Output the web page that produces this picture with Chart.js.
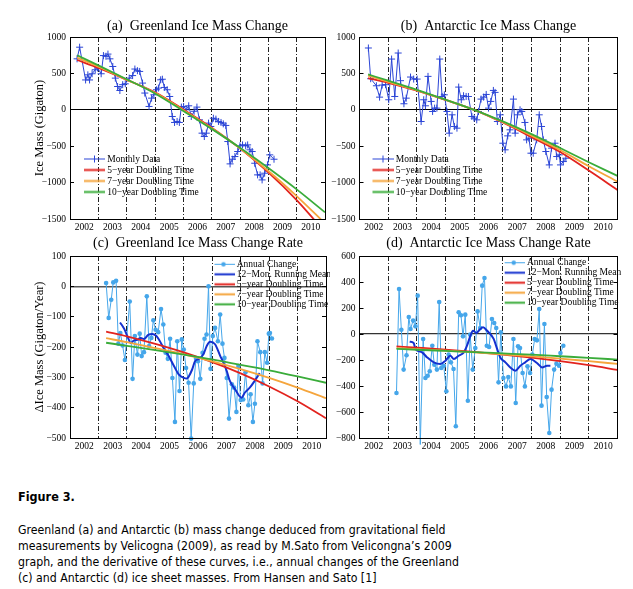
<!DOCTYPE html>
<html>
<head>
<meta charset="utf-8">
<title>Figure 3 - Greenland and Antarctic ice mass</title>
<script src="https://cdn.jsdelivr.net/npm/chart.js@4.4.0/dist/chart.umd.min.js"></script>
<style>
  body { margin: 0; background: #fff; width: 633px; height: 589px; position: relative; overflow: hidden; }
  .panel { position: absolute; }
  .fig { position: absolute; left: 18px; top: 489px; font: bold 12.5px "DejaVu Sans Condensed", "DejaVu Sans", sans-serif; color: #000; }
  .cap { position: absolute; left: 18px; top: 522px; font: 12.2px/16px "DejaVu Sans Condensed", "DejaVu Sans", sans-serif; color: #000; white-space: pre; }
</style>
</head>
<body>
<div class="panel" style="left:0;top:0;width:330px;height:240px"><canvas id="chartA"></canvas></div>
<div class="panel" style="left:330px;top:0;width:300px;height:240px"><canvas id="chartB"></canvas></div>
<div class="panel" style="left:0;top:222px;width:330px;height:240px"><canvas id="chartC"></canvas></div>
<div class="panel" style="left:330px;top:222px;width:300px;height:240px"><canvas id="chartD"></canvas></div>
<div class="fig">Figure 3.</div>
<div class="cap">Greenland (a) and Antarctic (b) mass change deduced from gravitational field
measurements by Velicogna (2009), as read by M.Sato from Velicongna’s 2009
graph, and the derivative of these curves, i.e., annual changes of the Greenland
(c) and Antarctic (d) ice sheet masses. From Hansen and Sato [1]</div>

<script>
// ---- data (years, gigaton) ----

// (a) Greenland monthly mass
const greenlandYears = [2002.25, 2002.34, 2002.55, 2002.63, 2002.69, 2002.78, 2002.89, 2002.97,
  2003.10, 2003.18, 2003.27, 2003.34, 2003.41, 2003.51, 2003.60, 2003.68, 2003.76, 2003.86, 2003.95,
  2004.09, 2004.21, 2004.29, 2004.38, 2004.46, 2004.56, 2004.64, 2004.79, 2004.88, 2004.96,
  2005.05, 2005.12, 2005.20, 2005.26, 2005.33, 2005.43, 2005.52, 2005.61, 2005.69, 2005.78, 2005.86, 2005.93,
  2006.01, 2006.10, 2006.19, 2006.28, 2006.38, 2006.48, 2006.57, 2006.66, 2006.74, 2006.81, 2006.89, 2006.97,
  2007.06, 2007.15, 2007.24, 2007.33, 2007.41, 2007.50, 2007.57, 2007.65, 2007.73, 2007.82, 2007.92,
  2008.00, 2008.09, 2008.20, 2008.27, 2008.35, 2008.43, 2008.52, 2008.62, 2008.71, 2008.78, 2008.87, 2008.97,
  2009.05, 2009.20];
const greenlandMass = [700, 860, 410, 480, 410, 495, 550, 575,
  495, 745, 735, 765, 700, 595, 435, 320, 265, 345, 357,
  435, 470, 560, 537, 527, 367, 230, 46, 160, 206,
  275, 298, 412, 420, 307, 275, 183, -92, -174, -160, -174, 37,
  46, 0, 55, -92, -20, 37, -138, -321, -367, -321, -183, -229,
  -115, -128, -160, -174, -193, -215, -436, -743, -679, -642, -573,
  -495, -482, -495, -482, -550, -573, -734, -894, -894, -963, -871, -757,
  -619, -679];

// (b) Antarctic monthly mass
const antarcticYears = [2002.31, 2002.39, 2002.59, 2002.70, 2002.79, 2002.91,
  2003.02, 2003.12, 2003.23, 2003.35, 2003.43, 2003.55, 2003.63, 2003.78, 2003.89,
  2004.01, 2004.15, 2004.24, 2004.30, 2004.39, 2004.50, 2004.55, 2004.62, 2004.70, 2004.80, 2004.88, 2004.96,
  2005.05, 2005.13, 2005.23, 2005.31, 2005.40, 2005.46, 2005.55, 2005.63, 2005.72, 2005.80, 2005.92,
  2006.00, 2006.09, 2006.15, 2006.24, 2006.33, 2006.42, 2006.50, 2006.58, 2006.67, 2006.73, 2006.81, 2006.91,
  2007.00, 2007.08, 2007.17, 2007.25, 2007.37, 2007.43, 2007.51, 2007.60, 2007.66, 2007.77, 2007.83, 2007.91, 2007.98,
  2008.06, 2008.18, 2008.27, 2008.35, 2008.41, 2008.50, 2008.62, 2008.70, 2008.82, 2008.88, 2008.97,
  2009.01, 2009.11, 2009.20];
const antarcticMass = [849, 427, 330, 174, 340, 345,
  138, 697, 183, 780, 400, 83, 160, 450, 422,
  422, -161, 138, 55, 459, 115, -23, 23, 23, 697, 183, 206,
  -23, -321, -69, -229, -252, 312, 138, 193, 183, 183, -92,
  -115, -138, -23, 147, 174, 211, 23, 115, 266, 239, -161, -69,
  -459, -550, -358, -275, 147, -321, -69, 0, -23, -174, -413, -390, -596,
  -596, -413, -69, -229, -413, -573, -757, -527, -459, -642, -619,
  -757, -711, -665];

// doubling-time curves for (a) and (b)
const fitYearsA = [2002.25, 2003, 2004, 2005, 2006, 2007, 2008, 2009, 2010, 2011];
const greenland5yr = [684, 574, 412, 240, 5, -245, -530, -860, -1240, -1680];
const greenland7yr = [717, 594, 415, 232, -5, -255, -530, -840, -1185, -1560];
const greenland10yr = [749, 610, 420, 225, -15, -262, -522, -800, -1093, -1408];

const fitYearsB = [2002.3, 2003, 2004, 2005, 2006, 2007, 2008, 2009, 2010, 2011];
const antarctic5yr = [436, 370, 262, 135, 0, -175, -375, -580, -835, -1100];
const antarctic7yr = [468, 385, 268, 138, 0, -168, -355, -553, -775, -986];
const antarctic10yr = [486, 400, 275, 140, 0, -160, -335, -525, -720, -908];

// (c) Greenland annual change
const greenRateYears = [2003.27, 2003.36, 2003.45, 2003.52, 2003.62, 2003.70, 2003.77, 2003.85, 2003.93,
  2004.10, 2004.20, 2004.28, 2004.37, 2004.45, 2004.52, 2004.60, 2004.70, 2004.78, 2004.86, 2004.93,
  2005.01, 2005.10, 2005.20, 2005.28, 2005.36, 2005.44, 2005.52, 2005.60, 2005.69, 2005.77, 2005.85, 2005.93,
  2006.00, 2006.08, 2006.17, 2006.26, 2006.35, 2006.43, 2006.50, 2006.58, 2006.66, 2006.73, 2006.80, 2006.87, 2006.94,
  2007.02, 2007.10, 2007.20, 2007.28, 2007.36, 2007.43, 2007.51, 2007.59, 2007.69, 2007.77, 2007.85, 2007.92,
  2008.00, 2008.09, 2008.17, 2008.27, 2008.35, 2008.43, 2008.50, 2008.59, 2008.69, 2008.77, 2008.85, 2008.93, 2008.99,
  2009.03, 2009.10];
const greenRate = [11, -104, -44, 13, 18, -189, -154, -195, -243,
  -50, -305, -164, -225, -156, -230, -217, -33, -197, -170, -112,
  -143, -151, -75, -126, -219, -239, -173, -302, -447, -181, -345, -175,
  -208, -269, -318, -502, -320, -239, -247, -305, -219, -173, -159, 0, -272,
  -164, -137, -181, -93, -189, -236, -302, -436, -323, -334, -414, -263,
  -375, -373, -283, -392, -356, -447, -387, -181, -217, -320, -217, -252, -156,
  -154, -172];
const greenMeanYears = [2003.76, 2003.91, 2004.02, 2004.14, 2004.25, 2004.37, 2004.49, 2004.60, 2004.75, 2004.89,
  2005.03, 2005.13, 2005.30, 2005.47, 2005.65, 2005.82, 2006.00, 2006.11, 2006.17, 2006.29, 2006.40, 2006.52,
  2006.69, 2006.81, 2006.93, 2007.10, 2007.28, 2007.39, 2007.51, 2007.62, 2007.80, 2008.03, 2008.15, 2008.32,
  2008.49, 2008.67];
const greenMean = [-119, -141, -165, -187, -178, -176, -170, -174, -160, -157,
  -163, -176, -205, -230, -262, -290, -302, -304, -298, -275, -246, -240,
  -224, -196, -183, -191, -229, -251, -279, -312, -339, -367, -350, -334,
  -312, -286];
const fitYearsC = [2003.27, 2004, 2005, 2006, 2007, 2008, 2009, 2010, 2011];
const greenRate5yr = [-149, -165, -190, -218, -250, -287, -330, -379, -435];
const greenRate7yr = [-171, -184, -204, -224, -247, -273, -302, -334, -369];
const greenRate10yr = [-186, -196, -210, -225, -241, -259, -277, -297, -318];

// (d) Antarctic annual change
const antRateYears = [2003.29, 2003.38, 2003.46, 2003.54, 2003.64, 2003.72, 2003.78, 2003.87, 2003.95,
  2004.03, 2004.12, 2004.22, 2004.30, 2004.38, 2004.45, 2004.54, 2004.61, 2004.70, 2004.78, 2004.85, 2004.94,
  2005.03, 2005.11, 2005.19, 2005.28, 2005.36, 2005.46, 2005.54, 2005.61, 2005.69, 2005.78, 2005.86, 2005.95,
  2006.04, 2006.12, 2006.21, 2006.28, 2006.36, 2006.44, 2006.52, 2006.62, 2006.70, 2006.77, 2006.85, 2006.93,
  2007.02, 2007.11, 2007.19, 2007.28, 2007.37, 2007.45, 2007.53, 2007.60, 2007.69, 2007.77, 2007.86, 2007.95,
  2008.03, 2008.11, 2008.19, 2008.27, 2008.35, 2008.45, 2008.53, 2008.62, 2008.70, 2008.79, 2008.87, 2008.96,
  2009.01, 2009.11];
const antRate = [-454, 346, 33, -274, -164, 131, 38, 103, 59,
  295, -850, -38, -338, -321, -287, -90, -236, -274, 246, -262, -244,
  -441, -159, -218, -269, -710, 167, 144, -18, 149, -513, -5, -274,
  -108, 174, 46, 372, 431, -90, -100, 115, 85, 46, -372, 13,
  -338, -403, -331, -403, -38, -531, -95, -108, -300, -403, -249, -300,
  -159, -38, -49, 192, -551, 77, -485, -762, -428, -274, -228, -244,
  -146, -90];
const antMeanYears = [2003.75, 2003.89, 2003.95, 2004.18, 2004.36, 2004.59, 2004.82,
  2005.00, 2005.17, 2005.29, 2005.46, 2005.64, 2005.75, 2005.87, 2005.96,
  2006.08, 2006.19, 2006.31, 2006.45, 2006.68, 2006.80, 2006.91,
  2007.09, 2007.26, 2007.44, 2007.61, 2007.78, 2007.96, 2008.19, 2008.37, 2008.54, 2008.66];
const antMean = [-59, -69, -115, -141, -180, -218, -231,
  -205, -167, -192, -167, -141, -90, -13, 25,
  8, 33, 51, 25, -38, -115, -180,
  -218, -257, -282, -244, -218, -192, -223, -257, -244, -244];
const fitYearsD = [2003.29, 2004, 2005, 2006, 2007, 2008, 2009, 2010, 2011];
const antRate5yr = [-95, -105, -120, -138, -158, -182, -209, -240, -276];
const antRate7yr = [-108, -116, -128, -141, -156, -172, -189, -209, -230];
const antRate10yr = [-115, -121, -130, -139, -149, -159, -171, -183, -197];

// ---- styling ----
const SERIF = '"Liberation Serif", "Times New Roman", serif';
const BLUE = '#2b45d6', LIGHT_BLUE = '#45a6ea', DARK_BLUE = '#1430cf';
const RED = '#e2231e', ORANGE = '#f5a53c', GREEN = '#3aac3a';
const LEGEND_FONT = 9.5;

Chart.defaults.font.family = SERIF;
Chart.defaults.color = '#000';

function pts(xs, ys) { return xs.map((x, i) => ({ x: x, y: ys[i] })); }

// small legend sample: a line, optionally with the series marker on it
function legendIcon(color, width, marker) {
  const c = document.createElement('canvas');
  c.width = 22; c.height = 9;
  const g = c.getContext('2d');
  g.strokeStyle = color; g.lineWidth = width;
  g.beginPath(); g.moveTo(0, 4.5); g.lineTo(22, 4.5); g.stroke();
  if (marker === 'cross') {
    g.lineWidth = 1;
    g.beginPath(); g.moveTo(11.5, 1); g.lineTo(11.5, 8); g.moveTo(8, 4.5); g.lineTo(15, 4.5); g.stroke();
  } else if (marker === 'dot') {
    g.fillStyle = color;
    g.beginPath(); g.arc(11, 4.5, 2.2, 0, Math.PI * 2); g.fill();
  }
  return c;
}

function fitSet(label, xs, ys, color, order) {
  return { label: label, data: pts(xs, ys), borderColor: color, backgroundColor: color, borderWidth: 1.8,
    pointRadius: 0, cubicInterpolationMode: 'monotone', order: order, icon: legendIcon(color, 2, null) };
}

// chart box + inward tick marks on the y axis
const framePlugin = {
  id: 'frame',
  afterDraw(chart) {
    const { ctx, chartArea: a } = chart;
    const y = chart.scales.y;
    const al = v => Math.round(v - 0.5) + 0.5;
    ctx.save();
    ctx.strokeStyle = '#000';
    ctx.lineWidth = 1;
    ctx.strokeRect(al(a.left), al(a.top), Math.round(a.right - a.left), Math.round(a.bottom - a.top));
    ctx.beginPath();
    y.ticks.forEach(t => {
      if (t.value === y.min || t.value === y.max) return;
      const py = al(y.getPixelForValue(t.value));
      ctx.moveTo(a.left, py); ctx.lineTo(a.left + 4, py);
      ctx.moveTo(a.right, py); ctx.lineTo(a.right - 4, py);
    });
    ctx.stroke();
    ctx.restore();
  }
};

// moves the legend (position 'chartArea') to its spot inside the plot
const legendPlace = {
  id: 'legendPlace',
  afterUpdate(chart, args, opts) {
    const lg = chart.legend;
    if (!lg) return;
    const ca = chart.chartArea;
    const pad = lg.options.labels.padding;
    const lineX = opts.fromRight ? ca.right - opts.dx : ca.left + opts.dx;
    const w = lg.width, h = lg.height;
    lg.left = lineX + 2.5 - pad;
    lg.top = ca.top + opts.dy - LEGEND_FONT / 2 - pad;
    lg.right = lg.left + w;
    lg.bottom = lg.top + h;
  }
};

function makePanel(id, o) {
  const icons = o.datasets.map(d => d.icon);
  new Chart(document.getElementById(id), {
    type: 'line',
    data: { datasets: o.datasets },
    options: {
      responsive: true,
      maintainAspectRatio: false,
      animation: false,
      layout: { padding: { left: 0, top: 0, right: o.padRight, bottom: 0 } },
      scales: {
        x: {
          type: 'linear', min: 2002, max: 2011,
          afterFit: s => { s.height = o.xHeight; },
          grid: {
            color: c => (c.tick && Number.isInteger(c.tick.value) && c.tick.value > 2002 && c.tick.value < 2011) ? '#222' : 'rgba(0,0,0,0)',
            lineWidth: 1, drawTicks: false
          },
          border: { color: '#000', width: 1, dash: [5, 2, 1, 2] },
          ticks: {
            stepSize: 0.5, autoSkip: false, maxRotation: 0, minRotation: 0, padding: 3,
            font: { family: SERIF, size: 9.5 }, color: '#000',
            callback: v => (Math.abs(v % 1 - 0.5) < 1e-6 ? String(Math.floor(v)) : '')
          }
        },
        y: {
          min: o.yMin, max: o.yMax,
          afterFit: s => { s.width = o.yWidth; },
          grid: {
            color: c => (c.tick && c.tick.value === 0 ? o.zeroColor : 'rgba(0,0,0,0)'),
            lineWidth: o.zeroWidth, drawTicks: false
          },
          border: { color: '#000', width: 1 },
          ticks: {
            stepSize: o.yStep, padding: 4, font: { family: SERIF, size: 9.5 }, color: '#000',
            callback: v => String(v).replace('-', '\u2212')
          },
          title: o.yTitle
            ? { display: true, text: o.yTitle, color: '#000', font: { family: SERIF, size: 12.5 }, padding: { top: 32, bottom: 0 } }
            : { display: false }
        }
      },
      plugins: {
        title: {
          display: true, text: o.title, fullSize: false, color: '#000',
          font: { family: SERIF, size: 14, weight: 'normal' },
          padding: { top: o.titleTop, bottom: o.titleBottom }
        },
        legend: {
          position: 'chartArea', align: 'start',
          labels: {
            usePointStyle: true, pointStyleWidth: 17, padding: o.legendPad,
            font: { family: SERIF, size: LEGEND_FONT }, color: '#000',
            generateLabels: chart => Chart.defaults.plugins.legend.labels.generateLabels(chart)
              .map(it => Object.assign(it, { pointStyle: icons[it.datasetIndex] })),
            sort: (a, b) => a.datasetIndex - b.datasetIndex
          }
        },
        legendPlace: o.legend,
        tooltip: { enabled: false }
      }
    },
    plugins: [framePlugin, legendPlace]
  });
}

// (a)
makePanel('chartA', {
  title: '(a)  Greenland Ice Mass Change', titleTop: 18, titleBottom: 2.2,
  yMin: -1500, yMax: 1000, yStep: 500, yWidth: 70, padRight: 1.5, xHeight: 21,
  yTitle: 'Ice Mass (Gigaton)', zeroColor: '#000', zeroWidth: 1,
  legendPad: 1.5, legend: { fromRight: false, dx: 13, dy: 122 },
  datasets: [
    { label: 'Monthly Data', data: pts(greenlandYears, greenlandMass), borderColor: BLUE, backgroundColor: BLUE,
      borderWidth: 1, pointStyle: 'cross', pointRadius: 3.5, pointBorderWidth: 1, order: 3, icon: legendIcon(BLUE, 1, 'cross') },
    fitSet('5\u2212year Doubling Time', fitYearsA, greenland5yr, RED, 2),
    fitSet('7\u2212year Doubling Time', fitYearsA, greenland7yr, ORANGE, 1),
    fitSet('10\u2212year Doubling Time', fitYearsA, greenland10yr, GREEN, 0)
  ]
});

// (b)
makePanel('chartB', {
  title: '(b)  Antarctic Ice Mass Change', titleTop: 18, titleBottom: 2.2,
  yMin: -1500, yMax: 1000, yStep: 500, yWidth: 29.5, padRight: 12.5, xHeight: 21,
  yTitle: null, zeroColor: '#000', zeroWidth: 1,
  legendPad: 1.5, legend: { fromRight: false, dx: 12, dy: 122 },
  datasets: [
    { label: 'Monthly Data', data: pts(antarcticYears, antarcticMass), borderColor: BLUE, backgroundColor: BLUE,
      borderWidth: 1, pointStyle: 'cross', pointRadius: 3.5, pointBorderWidth: 1, order: 3, icon: legendIcon(BLUE, 1, 'cross') },
    fitSet('5\u2212year Doubling Time', fitYearsB, antarctic5yr, RED, 2),
    fitSet('7\u2212year Doubling Time', fitYearsB, antarctic7yr, ORANGE, 1),
    fitSet('10\u2212year Doubling Time', fitYearsB, antarctic10yr, GREEN, 0)
  ]
});

// (c)
makePanel('chartC', {
  title: '(c)  Greenland Ice Mass Change Rate', titleTop: 12.6, titleBottom: 4.6,
  yMin: -500, yMax: 100, yStep: 100, yWidth: 70, padRight: 1.5, xHeight: 24,
  yTitle: '\u0394Ice Mass (Gigaton/Year)', zeroColor: '#555', zeroWidth: 1.5,
  legendPad: 0.5, legend: { fromRight: true, dx: 113.5, dy: 8.3 },
  datasets: [
    { label: 'Annual Change', data: pts(greenRateYears, greenRate), borderColor: LIGHT_BLUE, backgroundColor: LIGHT_BLUE,
      borderWidth: 1, pointRadius: 2.3, pointBorderWidth: 0, order: 4, clip: 5, icon: legendIcon(LIGHT_BLUE, 1, 'dot') },
    { label: '12\u2212Mon. Running Mean', data: pts(greenMeanYears, greenMean), borderColor: DARK_BLUE, backgroundColor: DARK_BLUE,
      borderWidth: 2, pointRadius: 0, cubicInterpolationMode: 'monotone', order: 3, icon: legendIcon(DARK_BLUE, 2, null) },
    fitSet('5\u2212year Doubling Time', fitYearsC, greenRate5yr, RED, 2),
    fitSet('7\u2212year Doubling Time', fitYearsC, greenRate7yr, ORANGE, 1),
    fitSet('10\u2212year Doubling Time', fitYearsC, greenRate10yr, GREEN, 0)
  ]
});

// (d)
makePanel('chartD', {
  title: '(d)  Antarctic Ice Mass Change Rate', titleTop: 12.6, titleBottom: 4.6,
  yMin: -800, yMax: 600, yStep: 200, yWidth: 29.5, padRight: 12.5, xHeight: 24,
  yTitle: null, zeroColor: '#333', zeroWidth: 1.2,
  legendPad: 0.5, legend: { fromRight: true, dx: 114.8, dy: 6.7 },
  datasets: [
    { label: 'Annual Change', data: pts(antRateYears, antRate), borderColor: LIGHT_BLUE, backgroundColor: LIGHT_BLUE,
      borderWidth: 1, pointRadius: 2.3, pointBorderWidth: 0, order: 4, clip: 10, icon: legendIcon(LIGHT_BLUE, 1, 'dot') },
    { label: '12\u2212Mon. Running Mean', data: pts(antMeanYears, antMean), borderColor: DARK_BLUE, backgroundColor: DARK_BLUE,
      borderWidth: 2, pointRadius: 0, cubicInterpolationMode: 'monotone', order: 3, icon: legendIcon(DARK_BLUE, 2, null) },
    fitSet('5\u2212year Doubling Time', fitYearsD, antRate5yr, RED, 2),
    fitSet('7\u2212year Doubling Time', fitYearsD, antRate7yr, ORANGE, 1),
    fitSet('10\u2212year Doubling Time', fitYearsD, antRate10yr, GREEN, 0)
  ]
});
</script>
</body>
</html>
